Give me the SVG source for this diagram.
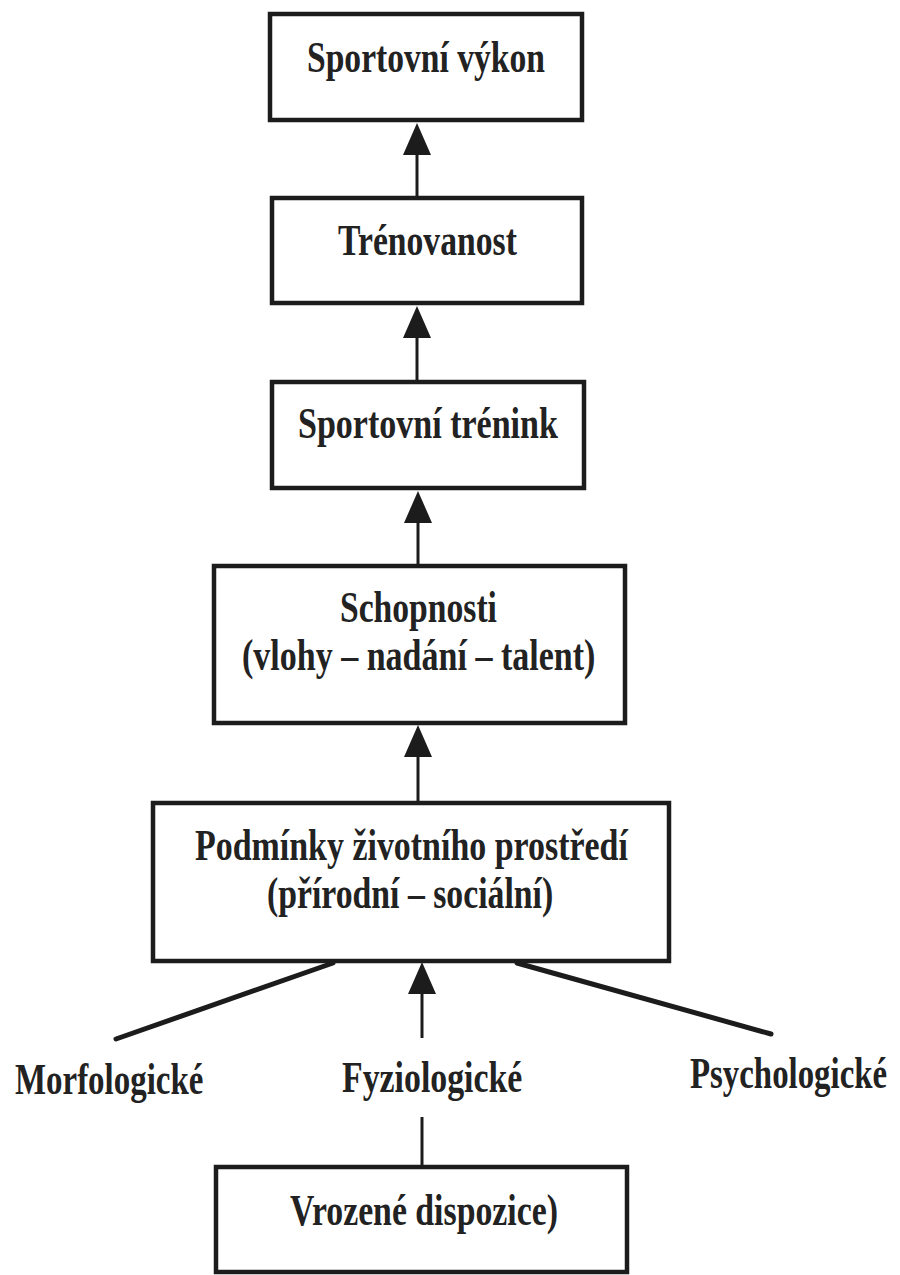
<svg xmlns="http://www.w3.org/2000/svg" width="900" height="1275" viewBox="0 0 900 1275">
<style>
.box{fill:#fff;stroke:#1c1c1c;stroke-width:4.5}
.t{font-family:"Liberation Serif","Times New Roman",serif;font-weight:bold;font-size:45px;fill:#222}
.c{stroke:#1c1c1c;stroke-width:3;fill:none}
.d{stroke:#1c1c1c;stroke-width:5;fill:none;stroke-linecap:round}
</style>
<defs>
<marker id="ah" viewBox="0 0 32 28" refX="24" refY="14" markerWidth="32" markerHeight="28" markerUnits="userSpaceOnUse" orient="auto">
<path d="M0,0 L32,14 L0,28 z" fill="#1c1c1c"/>
</marker>
</defs>
<rect width="900" height="1275" fill="#fff"/>
<g id="connectors">
<line class="c" x1="417" y1="198" x2="417" y2="131" marker-end="url(#ah)"/>
<line class="c" x1="417" y1="382" x2="417" y2="314" marker-end="url(#ah)"/>
<line class="c" x1="418" y1="566" x2="418" y2="499" marker-end="url(#ah)"/>
<line class="c" x1="418" y1="803" x2="418" y2="733" marker-end="url(#ah)"/>
<line class="c" x1="422" y1="1038" x2="422" y2="970" marker-end="url(#ah)"/>
<line class="d" x1="333" y1="963" x2="116" y2="1039"/>
<line class="d" x1="517" y1="963" x2="771" y2="1034"/>
<line class="c" x1="422" y1="1117" x2="422" y2="1167"/>
</g>
<g id="n1">
<rect class="box" x="270" y="14" width="312" height="106"/>
<text class="t" transform="translate(307,72) scale(0.73,1)" textLength="326" lengthAdjust="spacingAndGlyphs">Sportovní výkon</text>
</g>
<g id="n2">
<rect class="box" x="272" y="198" width="310" height="105"/>
<text class="t" transform="translate(338,255) scale(0.73,1)" textLength="245" lengthAdjust="spacingAndGlyphs">Trénovanost</text>
</g>
<g id="n3">
<rect class="box" x="272" y="382" width="312" height="106"/>
<text class="t" transform="translate(298,438) scale(0.73,1)" textLength="356" lengthAdjust="spacingAndGlyphs">Sportovní trénink</text>
</g>
<g id="n4">
<rect class="box" x="214" y="566" width="411" height="157"/>
<text class="t" transform="translate(340,622) scale(0.73,1)" textLength="215" lengthAdjust="spacingAndGlyphs">Schopnosti</text>
<text class="t" transform="translate(242,670) scale(0.73,1)" textLength="484" lengthAdjust="spacingAndGlyphs">(vlohy – nadání – talent)</text>
</g>
<g id="n5">
<rect class="box" x="153" y="803" width="516" height="158"/>
<text class="t" transform="translate(195,860) scale(0.73,1)" textLength="593" lengthAdjust="spacingAndGlyphs">Podmínky životního prostředí</text>
<text class="t" transform="translate(267,908) scale(0.73,1)" textLength="392" lengthAdjust="spacingAndGlyphs">(přírodní – sociální)</text>
</g>
<g id="n6">
<text class="t" transform="translate(15,1094) scale(0.73,1)" textLength="258" lengthAdjust="spacingAndGlyphs">Morfologické</text>
</g>
<g id="n7">
<text class="t" transform="translate(342,1092) scale(0.73,1)" textLength="247" lengthAdjust="spacingAndGlyphs">Fyziologické</text>
</g>
<g id="n8">
<text class="t" transform="translate(690,1088) scale(0.73,1)" textLength="270" lengthAdjust="spacingAndGlyphs">Psychologické</text>
</g>
<g id="n9">
<rect class="box" x="216" y="1167" width="411" height="105"/>
<text class="t" transform="translate(290,1225) scale(0.73,1)" textLength="367" lengthAdjust="spacingAndGlyphs">Vrozené dispozice)</text>
</g>
</svg>
